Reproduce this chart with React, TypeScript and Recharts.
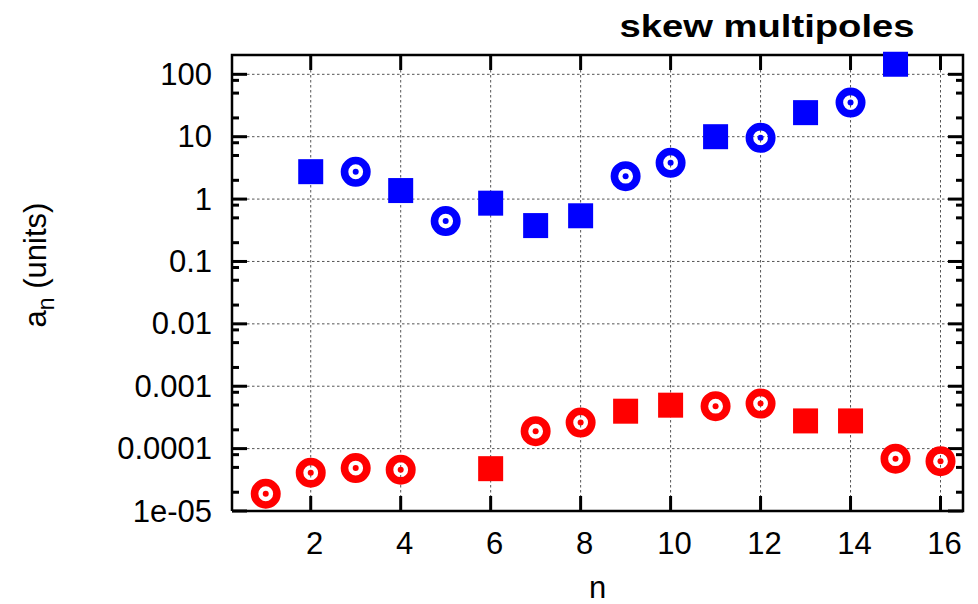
import React from "react";
import {
  ScatterChart,
  Scatter,
  XAxis,
  YAxis,
  CartesianGrid,
} from "recharts";

// Skew multipole coefficients a_n (units) versus harmonic order n
const blueSquareN = [2, 4, 6, 7, 8, 11, 13, 15];
const blueSquareA = [2.75, 1.37, 0.86, 0.376, 0.54, 10.0, 24.3, 145];

const blueCircleN = [3, 5, 9, 10, 12, 14];
const blueCircleA = [2.74, 0.444, 2.33, 3.82, 9.6, 35.2];

const redSquareN = [6, 9, 10, 13, 14];
const redSquareA = [4.77e-5, 3.98e-4, 4.97e-4, 2.78e-4, 2.78e-4];

const redCircleN = [1, 2, 3, 4, 7, 8, 11, 12, 15, 16];
const redCircleA = [
  1.89e-5, 4.11e-5, 4.88e-5, 4.59e-5, 1.9e-4, 2.62e-4, 4.79e-4, 5.28e-4,
  6.9e-5, 6.3e-5,
];

const xTicks = [2, 4, 6, 8, 10, 12, 14, 16];
const yMajorTicks = [1e-5, 1e-4, 1e-3, 1e-2, 0.1, 1, 10, 100];
const yTickLabels = ["1e-05", "0.0001", "0.001", "0.01", "0.1", "1", "10", "100"];
const yMinorMultipliers = [2, 5, 8];

const xDomain = [0.25, 16.5];
const yDomain = [1e-5, 204];

const BLUE = "#0000ff";
const RED = "#ff0000";
const FONT = "'Liberation Sans', Arial, Helvetica, sans-serif";

const toPoints = (ns: number[], vals: number[]) =>
  ns.map((n, i) => ({ n, a: vals[i] }));

const blueSquares = toPoints(blueSquareN, blueSquareA);
const blueCircles = toPoints(blueCircleN, blueCircleA);
const redSquares = toPoints(redSquareN, redSquareA);
const redCircles = toPoints(redCircleN, redCircleA);

const yMinorTicks: number[] = [];
yMajorTicks.slice(0, -1).forEach((m) =>
  yMinorMultipliers.forEach((k) => yMinorTicks.push(m * k))
);

const majorIndex = (v: number) =>
  yMajorTicks.findIndex((m) => Math.abs(m - v) / m < 1e-6);

const MAJOR_LEN = 15;
const MINOR_LEN = 7;
const FRAME_W = 2.5;
const TICK_W = 3;

// Tick anchors sitting on each edge of the plot box
const leftMajor = yMajorTicks.map((a) => ({ n: xDomain[0], a }));
const rightMajor = yMajorTicks.map((a) => ({ n: xDomain[1], a }));
const leftMinor = yMinorTicks.map((a) => ({ n: xDomain[0], a }));
const rightMinor = yMinorTicks.map((a) => ({ n: xDomain[1], a }));
const bottomTicks = xTicks.map((n) => ({ n, a: yDomain[0] }));
const topTicks = xTicks.map((n) => ({ n, a: yDomain[1] }));

// Corners of the plot box, joined in order to draw the border
const framePoints = [
  { n: xDomain[0], a: yDomain[0] },
  { n: xDomain[1], a: yDomain[0] },
  { n: xDomain[1], a: yDomain[1] },
  { n: xDomain[0], a: yDomain[1] },
  { n: xDomain[0], a: yDomain[0] },
];

// Inward stubs as thin filled bars; dir: +1 right/down, -1 left/up
const hStub = (len: number, dir: number) => (props: any) => {
  const cx = Number(props.cx);
  const cy = Number(props.cy);
  const x = dir > 0 ? cx : cx - len;
  return <rect x={x} y={cy - TICK_W / 2} width={len} height={TICK_W} fill="#000" />;
};

const vStub = (len: number, dir: number) => (props: any) => {
  const cx = Number(props.cx);
  const cy = Number(props.cy);
  const y = dir > 0 ? cy : cy - len;
  return <rect x={cx - TICK_W / 2} y={y} width={TICK_W} height={len} fill="#000" />;
};

const NoMark = () => <g />;

const LeftLabel = (props: any) => {
  const x = Number(props.x);
  const y = Number(props.y);
  const idx = majorIndex(props.payload.value);
  if (idx < 0) return <g />;
  return (
    <text
      x={x - 20}
      y={y}
      textAnchor="end"
      dominantBaseline="central"
      fontFamily={FONT}
      fontSize={31}
      fill="#000"
    >
      {yTickLabels[idx]}
    </text>
  );
};

const BottomLabel = (props: any) => {
  const x = Number(props.x);
  const y = Number(props.y);
  return (
    <text
      x={x + 4}
      y={y + 32}
      textAnchor="middle"
      dominantBaseline="central"
      fontFamily={FONT}
      fontSize={31}
      fill="#000"
    >
      {props.payload.value}
    </text>
  );
};

const SquareMark = (color: string) => (props: any) => {
  const { cx, cy } = props;
  const s = 25;
  return <rect x={cx - s / 2} y={cy - s / 2} width={s} height={s} fill={color} />;
};

const TargetMark = (color: string) => (props: any) => {
  const { cx, cy } = props;
  return (
    <g>
      <circle cx={cx} cy={cy} r={11.2} fill="none" stroke={color} strokeWidth={7.6} />
      <circle cx={cx} cy={cy} r={3} fill={color} />
    </g>
  );
};

const YTitle = (props: any) => {
  const vb = props.viewBox || { x: 0, y: 55, width: 232, height: 456 };
  const cx = 46;
  const cy = vb.y + vb.height / 2 - 18;
  return (
    <text
      x={cx}
      y={cy}
      transform={`rotate(-90 ${cx} ${cy})`}
      textAnchor="middle"
      fontFamily={FONT}
      fontSize={31}
      fill="#000"
    >
      a
      <tspan fontSize={23} dy={8}>
        n
      </tspan>
      <tspan dy={-8}> (units)</tspan>
    </text>
  );
};

const XTitle = (props: any) => {
  const vb = props.viewBox || { x: 232, y: 511, width: 731, height: 60 };
  return (
    <text
      x={vb.x + vb.width / 2}
      y={598}
      textAnchor="middle"
      fontFamily={FONT}
      fontSize={31}
      fill="#000"
    >
      n
    </text>
  );
};

export default function App() {
  return (
    <div style={{ position: "absolute", left: 0, top: 0, background: "#fff" }}>
      <ScatterChart
        width={978}
        height={604}
        margin={{ top: 55, right: 15, bottom: 33, left: 0 }}
      >
        <CartesianGrid
          stroke="#555"
          strokeWidth={1}
          strokeDasharray="2.5 2.5"
          horizontalValues={yMajorTicks}
          verticalValues={xTicks}
        />
        <XAxis
          dataKey="n"
          type="number"
          domain={xDomain}
          ticks={xTicks}
          interval={0}
          height={60}
          tickSize={0}
          tickMargin={0}
          tickLine={false}
          axisLine={false}
          tick={BottomLabel}
          label={<XTitle />}
        />
        <YAxis
          dataKey="a"
          type="number"
          scale="log"
          domain={yDomain}
          ticks={yMajorTicks}
          interval={0}
          width={232}
          tickSize={0}
          tickMargin={0}
          tickLine={false}
          axisLine={false}
          tick={LeftLabel}
          label={<YTitle />}
        />
        <Scatter
          data={framePoints}
          line={{ stroke: "#000", strokeWidth: FRAME_W }}
          lineType="joint"
          shape={NoMark}
          isAnimationActive={false}
        />
        <Scatter data={leftMajor} shape={hStub(MAJOR_LEN, 1)} isAnimationActive={false} />
        <Scatter data={rightMajor} shape={hStub(MAJOR_LEN, -1)} isAnimationActive={false} />
        <Scatter data={leftMinor} shape={hStub(MINOR_LEN, 1)} isAnimationActive={false} />
        <Scatter data={rightMinor} shape={hStub(MINOR_LEN, -1)} isAnimationActive={false} />
        <Scatter data={bottomTicks} shape={vStub(MAJOR_LEN, -1)} isAnimationActive={false} />
        <Scatter data={topTicks} shape={vStub(MAJOR_LEN, 1)} isAnimationActive={false} />
        <Scatter data={blueSquares} shape={SquareMark(BLUE)} isAnimationActive={false} />
        <Scatter data={blueCircles} shape={TargetMark(BLUE)} isAnimationActive={false} />
        <Scatter data={redSquares} shape={SquareMark(RED)} isAnimationActive={false} />
        <Scatter data={redCircles} shape={TargetMark(RED)} isAnimationActive={false} />
        <text
          x={767}
          y={37}
          textAnchor="middle"
          fontFamily={FONT}
          fontWeight="bold"
          fontSize={32}
          textLength={295}
          lengthAdjust="spacingAndGlyphs"
          fill="#000"
        >
          skew multipoles
        </text>
      </ScatterChart>
    </div>
  );
}
